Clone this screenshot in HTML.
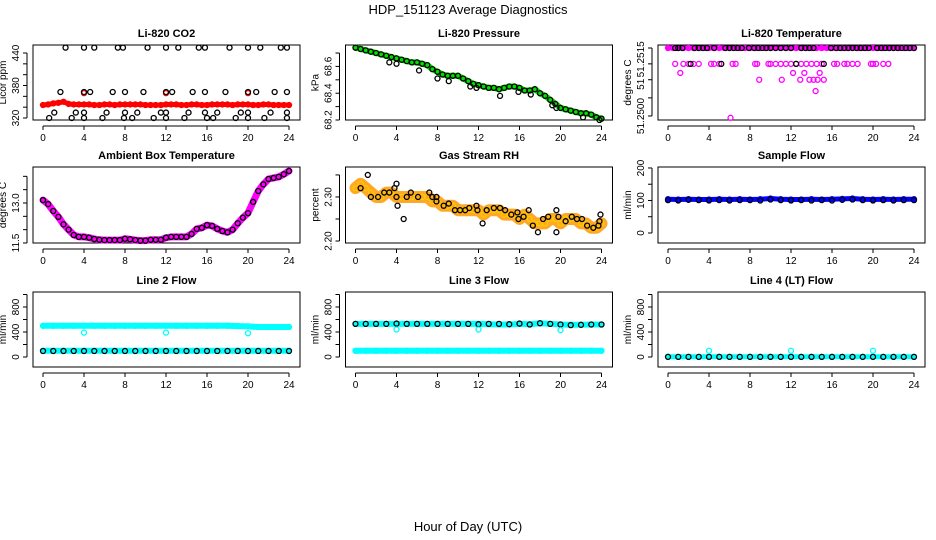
<!DOCTYPE html>
<html><head><meta charset="utf-8"><style>
body{margin:0;background:#fff;}
svg{display:block;font-family:"Liberation Sans",sans-serif;}
</style></head><body>
<svg id="c" width="936" height="540" viewBox="0 0 936 540">
<text x="468" y="14" text-anchor="middle" font-size="13">HDP_151123  Average Diagnostics</text>
<text x="468" y="531" text-anchor="middle" font-size="13">Hour of Day (UTC)</text>
</svg>
<script>
// time grid (hours)
const T = [0,0.5,1,1.5,2,2.5,3,3.5,4,4.5,5,5.5,6,6.5,7,7.5,8,8.5,9,9.5,10,10.5,11,11.5,12,12.5,13,13.5,14,14.5,15,15.5,16,16.5,17,17.5,18,18.5,19,19.5,20,20.5,21,21.5,22,22.5,23,23.5,24];
const xTicks = [0,4,8,12,16,20,24];
// CO2
const co2Red = [344,345,347,348,350,346,345,345,345,345,344,344,345,345,344,345,345,345,345,345,344,344,344,344,345,345,345,344,344,345,345,344,344,345,345,345,345,344,345,345,345,344,344,345,345,344,344,344,344];
const co2RedOutT = [4,12,20];
const co2RedOutV = [366,366,366];
const co2BlkT = [2.2,4,5,7.3,7.8,10.2,12,13.2,15.2,15.8,18.2,20,21.2,23.2,23.8, 1.7,4,4.6,6.8,8,9.8,12,12.6,14.6,15.8,17.8,20,20.8,22.6,23.8, 1.1,3.2,4,6.2,8,9.2,11.5,12,14.2,15.8,17,19.3,20,22.2,23.8, 0.6,2.8,4,5.8,7.9,8.7,10.8,12,13.8,16,16.6,18.8,20,21.6,23.8];
const co2BlkV = [450,450,450,450,450,450,450,450,450,450,450,450,450,450,450, 368,368,368,368,368,368,368,368,368,368,368,368,368,368,368, 330,330,330,330,330,330,330,330,330,330,330,330,330,330,330, 320,320,320,320,320,320,320,320,320,320,320,320,320,320,320];
// Pressure
const pres = [68.74,68.73,68.72,68.71,68.70,68.69,68.68,68.67,68.66,68.65,68.64,68.63,68.63,68.62,68.61,68.58,68.56,68.54,68.53,68.53,68.53,68.51,68.49,68.47,68.46,68.45,68.44,68.44,68.43,68.44,68.45,68.45,68.44,68.42,68.42,68.43,68.40,68.38,68.35,68.32,68.29,68.28,68.27,68.26,68.25,68.25,68.24,68.22,68.21];
const presOutT = [3.3,4,6.2,8,9.1,11.2,11.8,14.1,15.9,17.1,19.2,19.6,22.2,23.8];
const presOutV = [68.63,68.62,68.57,68.51,68.49,68.45,68.44,68.38,68.41,68.39,68.31,68.29,68.22,68.20];
// Li-820 temperature
const tempTopT = [0,0.5,1,1.5,2,2.5,3,3.5,4,4.5,5,5.5,6,6.5,7,7.5,8,8.5,9,9.5,10,10.5,11,11.5,12,12.5,13,13.5,14,14.5,15,15.5,16,16.5,17,17.5,18,18.5,19,19.5,20,20.5,21,21.5,22,22.5,23,23.5,24];
const tempTopBlkT = [0.7,1,1.4,2.6,3,3.4,3.8,4.5,5.6,6,6.4,6.8,7.2,7.9,8.4,8.8,9.2,9.6,10,10.5,11,11.5,12,13,13.4,13.8,14.2,15.9,16.4,16.8,17.2,17.6,18,18.4,18.8,19.2,19.6,20.4,20.8,21.2,21.6,22,22.4,22.8,23.2,23.6,24];
const tempL2T = [0.7,1.5,2,2.5,3,4.2,4.5,5,6.3,6.6,8.5,8.7,9.8,10,10.5,11,11.5,12,12.5,13,13.5,14,14.5,15,16.2,16.5,17.2,17.5,18,18.5,19.8,20,20.3,21,21.5];
const tempL2BlkT = [2.2,5.2,12.5,15.2];
const tempOddT = [1.2,12.2,13.3,14.8,8.9,11.1,12.9,13.8,14.2,14.6,15.2,14.4,6.1];
const tempOddV = [51.25095,51.25095,51.25095,51.25095,51.2508,51.2508,51.2508,51.2508,51.2508,51.2508,51.2508,51.25055,51.24996];
// Ambient box temperature
const amb = [13.11,12.96,12.7,12.48,12.2,12.0,11.8,11.73,11.73,11.7,11.65,11.62,11.61,11.61,11.61,11.61,11.66,11.64,11.61,11.59,11.59,11.62,11.62,11.62,11.7,11.73,11.73,11.73,11.73,11.84,12.03,12.07,12.17,12.14,12.03,11.95,11.9,12.0,12.24,12.45,12.62,13.04,13.45,13.7,13.9,13.94,13.98,14.08,14.2];
// Gas stream RH
const rh = [2.32,2.33,2.32,2.31,2.30,2.30,2.31,2.31,2.30,2.30,2.30,2.30,2.30,2.30,2.30,2.29,2.29,2.28,2.28,2.28,2.27,2.27,2.27,2.27,2.27,2.26,2.27,2.27,2.27,2.26,2.26,2.26,2.25,2.26,2.25,2.24,2.24,2.24,2.25,2.25,2.24,2.25,2.25,2.25,2.24,2.24,2.23,2.23,2.24];
const rhBlkT = [0.5,1.2,1.5,2.2,2.8,3.3,3.8,4,4,4.1,4.7,5.4,5,6.1,7.2,7.5,7.9,7.9,8.6,9.1,9.7,10.2,10.7,11.1,11.8,11.9,12.4,12.8,13.5,14.1,14.6,15.2,15.8,15.9,16.4,16.9,17.3,17.8,18.3,18.8,19.6,19.6,19.8,20.5,21.1,21.6,22.1,22.6,23.2,23.7,23.9,23.8];
const rhBlkV = [2.32,2.35,2.30,2.30,2.31,2.31,2.32,2.30,2.33,2.28,2.25,2.31,2.30,2.30,2.31,2.30,2.30,2.29,2.28,2.285,2.27,2.27,2.27,2.275,2.28,2.27,2.24,2.27,2.275,2.275,2.27,2.26,2.265,2.25,2.255,2.27,2.235,2.22,2.25,2.255,2.27,2.22,2.255,2.245,2.255,2.25,2.25,2.235,2.23,2.235,2.26,2.245];
// Flows (hourly)
const TH = [0,1,2,3,4,5,6,7,8,9,10,11,12,13,14,15,16,17,18,19,20,21,22,23,24];
const sampleBlue = [104,103,104,103,103,104,103,104,103,104,106,104,103,103,104,103,104,105,106,104,103,104,103,104,104];
const sampleBlk = [101,100,102,101,100,101,100,101,101,100,103,101,100,101,100,101,100,102,103,101,100,101,100,101,101];
const l2High = [500,500,500,500,500,500,500,500,500,500,500,500,500,500,500,500,500,500,500,495,490,480,480,480,480];
const l2Low = [100,100,100,100,100,100,100,100,100,100,100,100,100,100,100,100,100,100,100,100,100,100,100,100,100];
const l2Blk = [96,96,96,96,96,96,96,96,96,96,96,96,96,96,96,96,96,96,96,96,96,96,96,96,96];
const l3High = [530,530,530,530,530,530,530,530,530,530,530,530,530,525,520,520,530,525,540,530,520,515,515,520,520];
const l3Low = [100,100,100,100,100,100,100,100,100,100,100,100,100,100,100,100,100,100,100,100,100,100,100,100,100];
const l3Blk = [530,530,530,530,535,530,530,530,530,530,530,530,525,530,530,525,535,520,540,530,520,510,515,520,520];
const l4Cyan = [5,3,3,3,3,3,3,3,3,3,3,3,3,3,3,3,3,3,3,3,3,3,3,3,3];
const l4Blk = [2,2,2,2,2,2,2,2,2,2,2,2,2,2,2,2,2,2,2,2,2,2,2,2,2];
const outT = [4,12,20];
const l2Out = [390,390,380];
const l3Out = [440,440,430];
const l4Out = [100,100,100];

const NS = 'http://www.w3.org/2000/svg';
const svg = document.getElementById('c');
function mk(tag, attrs, parent){ const e=document.createElementNS(NS,tag); for(const k in attrs) e.setAttribute(k,attrs[k]); (parent||svg).appendChild(e); return e; }
const colX0 = [43,355.5,668], XW = 246;
const rowY = [[45,120],[167,243],[292,367]];

function panel(col,row,ymin,ymax,ticks,labels,title,ytitle,name,labelVals){
  const g = mk('g',{});
  
  
  const x0 = colX0[col], top=rowY[row][0], bot=rowY[row][1];
  const L = x0-10, R = x0+XW+11;
  const X = t => x0 + t/24*XW;
  const Y = v => bot - (v-ymin)/(ymax-ymin)*(bot-top);
  const box = mk('rect',{x:L,y:top,width:R-L,height:bot-top,fill:'none',stroke:'#000','stroke-width':1},g);
  
  
  const tt = mk('text',{x:(L+R)/2,y:top-8,'text-anchor':'middle','font-size':11,'font-weight':'bold'},g);
  tt.textContent = title;
  
  
  mk('line',{x1:X(0),x2:X(24),y1:bot+6,y2:bot+6,stroke:'#000'},g);
  xTicks.forEach(t=>{
    mk('line',{x1:X(t),x2:X(t),y1:bot+6,y2:bot+10,stroke:'#000'},g);
    const tx = mk('text',{x:X(t),y:bot+21,'text-anchor':'middle','font-size':10},g);
    tx.textContent = t;
    
    
  });
  mk('line',{x1:L-6,x2:L-6,y1:Y(ticks[0]),y2:Y(ticks[ticks.length-1]),stroke:'#000'},g);
  ticks.forEach((v,i)=>{
    mk('line',{x1:L-10,x2:L-6,y1:Y(v),y2:Y(v),stroke:'#000'},g);
  });
  const lv = labelVals || ticks;
  lv.forEach((v,i)=>{
    if(labels[i]){
      const ty = mk('text',{x:0,y:0,'text-anchor':'middle','font-size':10,transform:`translate(${L-14},${Y(v)}) rotate(-90)`},g);
      ty.textContent = labels[i];
      
      
    }
  });
  const yt = mk('text',{x:0,y:0,'text-anchor':'middle','font-size':10,transform:`translate(${L-27},${(top+bot)/2}) rotate(-90)`},g);
  yt.textContent = ytitle;
  
  
  return {g,X,Y};
}
function pts(p,ts,vs,color,name,band,op){
  const s = mk('g',{},p.g);
  
  
  if(band){
    const d = ts.map((t,i)=>(i?'L':'M')+p.X(t).toFixed(1)+' '+p.Y(vs[i]).toFixed(1)).join(' ');
    mk('path',{d:d,fill:'none',stroke:color,'stroke-width':band,'stroke-linejoin':'round','stroke-linecap':'round','stroke-opacity':op||1},s);
  }
  ts.forEach((t,i)=>{
    const c = mk('circle',{cx:p.X(t),cy:p.Y(vs[i]),r:2.5,fill:'none',stroke:color,'stroke-width':1.3},s);
    
    
  });
}
const fill = (arr,v)=>arr.map(()=>v);

let p = panel(0,0,316.3,454.8,[320,340,360,380,400,420,440],['320','','','380','','','440'],'Li-820 CO2','Licor ppm','co2');
pts(p,T,co2Red,'#f00','co2-red-series',5);
pts(p,co2RedOutT,co2RedOutV,'#f00','co2-red-outliers');
pts(p,co2BlkT,co2BlkV,'#000','co2-black-series');

p = panel(1,0,68.2,68.76,[68.2,68.3,68.4,68.5,68.6,68.7],['68.2','','68.4','','68.6',''],'Li-820 Pressure','kPa','pressure');
pts(p,T,pres,'#0d0','pressure-green-series',6);
pts(p,T,pres,'#000','pressure-black-series');
pts(p,presOutT,presOutV,'#000','pressure-black-outliers');

p = panel(2,0,51.249912,51.251566,[51.25,51.2504,51.2508,51.25115,51.2515],['51.2500','51','51.2515'],'Li-820 Temperature','degrees C','li820-temp',[51.2500,51.2507,51.25125]);
pts(p,tempTopT,fill(tempTopT,51.2515),'#f0f','temp-pink-top',5);
pts(p,tempL2T,fill(tempL2T,51.25115),'#f0f','temp-pink-level2');
pts(p,tempOddT,tempOddV,'#f0f','temp-pink-scatter');
pts(p,tempTopBlkT,fill(tempTopBlkT,51.2515),'#000','temp-black-top');
pts(p,tempL2BlkT,fill(tempL2BlkT,51.25115),'#000','temp-black-level2');

p = panel(0,1,11.5,14.35,[11.5,12,12.5,13,13.5,14],['11.5','','','13.0','',''],'Ambient Box Temperature','degrees C','ambient');
pts(p,T,amb,'#f0f','ambient-pink-series',7);
pts(p,T,amb,'#000','ambient-black-series');

p = panel(1,1,2.1955,2.368,[2.20,2.25,2.30,2.35],['2.20','','2.30',''],'Gas Stream RH','percent','rh');
pts(p,T,rh,'#f90','rh-orange-band',12,0.85);
pts(p,T,rh,'#fc0','rh-yellow-series');
pts(p,rhBlkT,rhBlkV,'#000','rh-black-series');

p = panel(2,1,-30.8,203,[0,50,100,150,200],['0','','100','','200'],'Sample Flow','ml/min','sample-flow');
pts(p,TH,sampleBlue,'#00f','sample-blue-series',5);
pts(p,TH,sampleBlk,'#000','sample-black-series');

const rt=[0,200,400,600,800,1000], rl=['0','','400','','800',''];
p = panel(0,2,-160,1040,rt,rl,'Line 2 Flow','ml/min','line2');
pts(p,TH,l2High,'#0ff','line2-cyan-high',6);
pts(p,TH,l2Low,'#0ff','line2-cyan-low',6);
pts(p,TH,l2Blk,'#000','line2-black-series');
pts(p,outT,l2Out,'#0ff','line2-cyan-outliers');
p = panel(1,2,-160,1040,rt,rl,'Line 3 Flow','ml/min','line3');
pts(p,TH,l3High,'#0ff','line3-cyan-high',6);
pts(p,TH,l3Low,'#0ff','line3-cyan-low',6);
pts(p,TH,l3Blk,'#000','line3-black-series');
pts(p,outT,l3Out,'#0ff','line3-cyan-outliers');
p = panel(2,2,-160,1040,rt,rl,'Line 4 (LT) Flow','ml/min','line4');
pts(p,TH,l4Cyan,'#0ff','line4-cyan-series',5);
pts(p,TH,l4Blk,'#000','line4-black-series');
pts(p,outT,l4Out,'#0ff','line4-cyan-outliers');
</script>
</body></html>
